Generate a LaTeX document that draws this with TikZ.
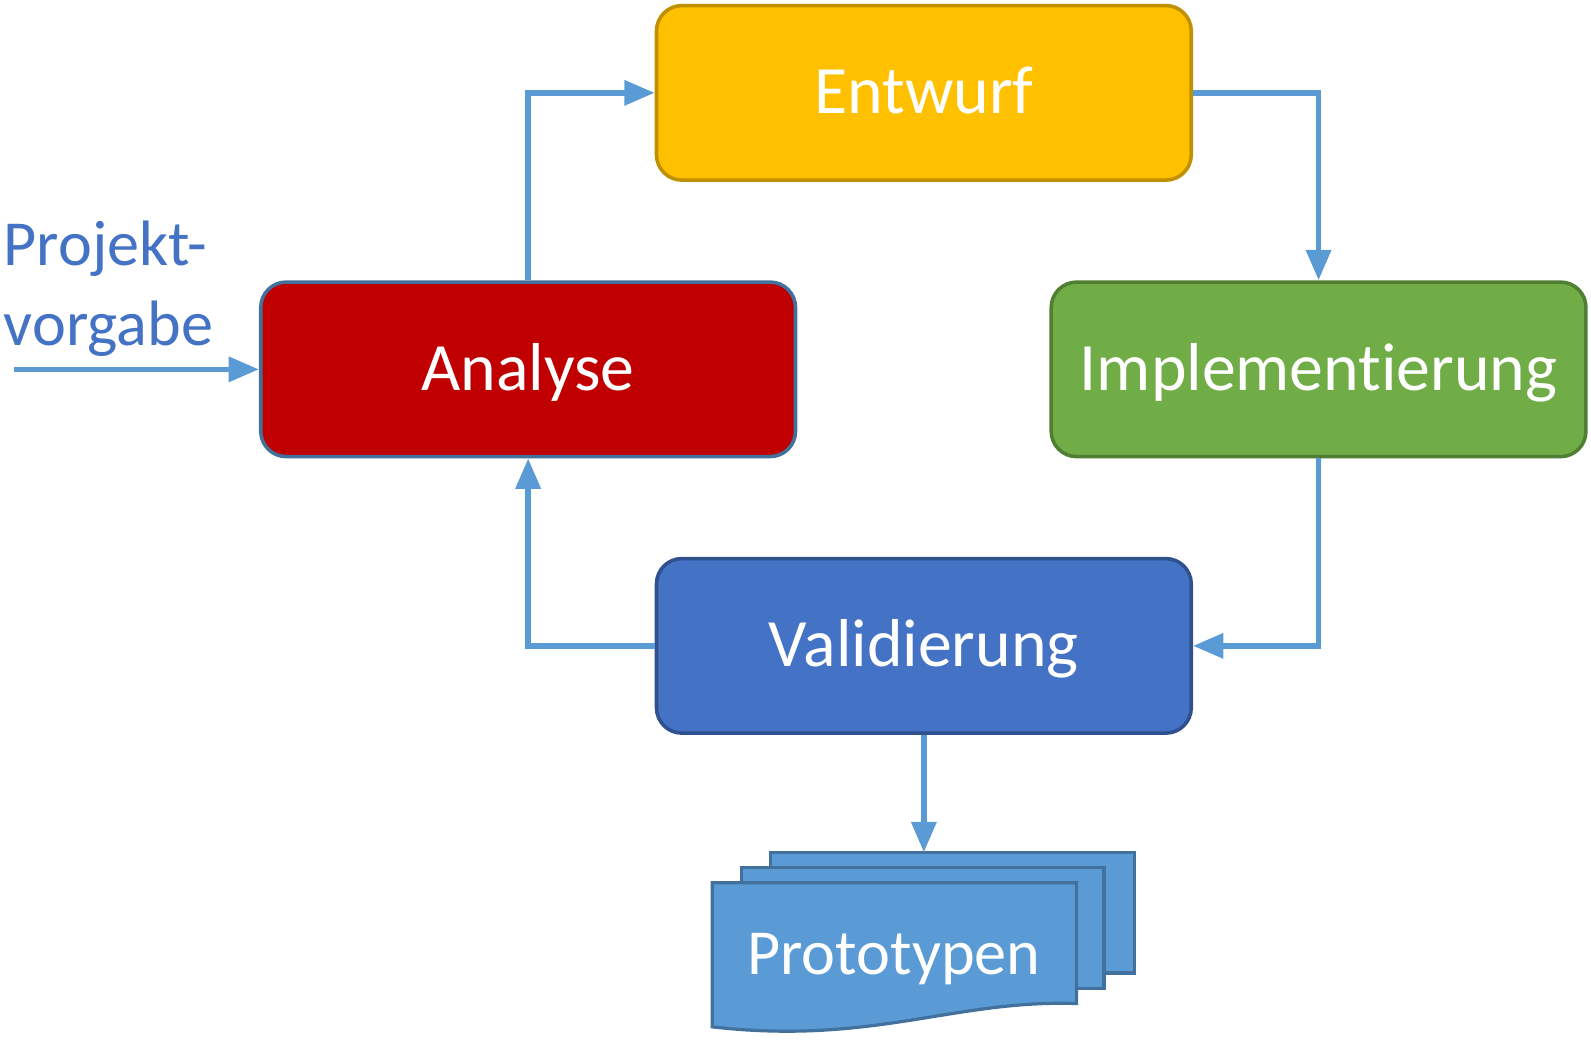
\documentclass[tikz,border=0pt]{standalone}
\usepackage{fontspec}
\setmainfont{Carlito}[Ligatures=NoCommon, RawFeature={-clig;-calt;-dlig}]
\usetikzlibrary{arrows.meta, positioning}
\definecolor{entwurfgelb}{HTML}{FFC000}
\definecolor{entwurfrand}{HTML}{BF9000}
\definecolor{analyserot}{HTML}{C00000}
\definecolor{analyserand}{HTML}{41719C}
\definecolor{implgruen}{HTML}{70AD47}
\definecolor{implrand}{HTML}{507E32}
\definecolor{valblau}{HTML}{4472C4}
\definecolor{valrand}{HTML}{2F528F}
\definecolor{protoblau}{HTML}{5B9BD5}
\definecolor{protorand}{HTML}{41719C}
\definecolor{pfeilblau}{HTML}{5B9BD5}

\begin{document}
\begin{tikzpicture}[
    phase/.style={
        rectangle,
        draw,
        rounded corners=0.25cm,
        line width=1pt,
        minimum width=5.27cm,
        minimum height=1.72cm,
        text=white,
        text height=15pt,
        text depth=3.2pt,
        font=\fontsize{19}{23}\selectfont,
        align=center
    },
    sheet/.style={
        draw=protorand,
        fill=protoblau,
        line width=0.9pt
    },
    arrow/.style={
        -{Triangle[length=3mm, width=2.4mm]},
        line width=1.6pt,
        draw=pfeilblau
    }
]
    \useasboundingbox (0,0) rectangle (15.68,-10.24);

    % Phasen des Zyklus
    \node (entwurf) [phase, fill=entwurfgelb, draw=entwurfrand] at (9.105,-0.915) {Entwurf};
    \node (analyse) [phase, fill=analyserot, draw=analyserand] at (5.205,-3.64) {Analyse};
    \node (impl) [phase, fill=implgruen, draw=implrand] at (12.995,-3.64) {Implementierung};
    \node (valid) [phase, fill=valblau, draw=valrand] at (9.105,-6.365) {Validierung};

    % Eingabe links
    \node (vorgabe) [anchor=north west, inner sep=0pt, align=left, text=valblau,
        font=\fontsize{18}{22.5}\selectfont] at (0.03,-2.17) {Projekt-\\vorgabe};
    \coordinate (start) at (0.14,-3.64);

    % Stapel der Prototypen
    \draw[sheet] (7.59,-8.40) rectangle (11.18,-9.59);
    \draw[sheet] (7.31,-8.55) rectangle (10.88,-9.74);
    \draw[sheet] (7.02,-8.70) -- (10.61,-8.70) -- (10.61,-9.89)
        .. controls (9.40,-9.85) and (8.60,-10.30) .. (7.02,-10.12) -- cycle;
    \node (proto) [text=white, font=\fontsize{18}{22}\selectfont] at (8.81,-9.45) {Prototypen};
    \coordinate (stapel) at (9.105,-8.40);

    % Pfeile
    \draw[arrow] (start) -- (analyse.west);
    \draw[arrow] (analyse.north) |- (entwurf.west);
    \draw[arrow] (entwurf.east) -| (impl.north);
    \draw[arrow] (impl.south) |- (valid.east);
    \draw[arrow] (valid.west) -| (analyse.south);
    \draw[arrow] (valid.south) -- (stapel);

\end{tikzpicture}
\end{document}
